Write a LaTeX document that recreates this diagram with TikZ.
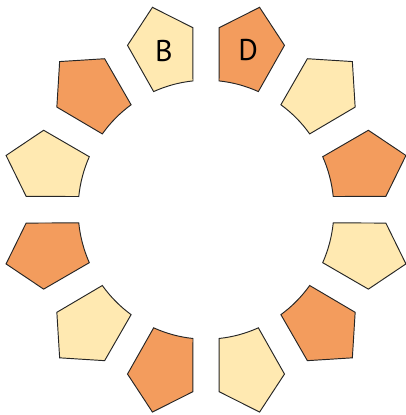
\documentclass[tikz,border=0pt]{standalone}
\usepackage{fontspec}
\setmainfont{PT Sans}
\definecolor{petY}{HTML}{FFE9B1}
\definecolor{petO}{HTML}{F39C5D}
\begin{document}
\begin{tikzpicture}[x=1pt,y=1pt,
  petal/.style={draw=black!85,line width=0.95pt,line join=miter},
  lbl/.style={font=\fontsize{30}{30}\selectfont,inner sep=0pt}]
\useasboundingbox (0,0) rectangle (406,415);
\begin{scope}[shift={(206,205.3)},xscale=0.988]
\foreach \k in {0,...,11}{
  \pgfmathsetmacro{\ang}{15+30*\k-90}
  \pgfmathtruncatemacro{\pty}{mod(\k,2)}
  \ifnum\pty=0 \def\col{petO}\else\def\col{petY}\fi
  \begin{scope}[rotate=\ang]
    \path[petal,fill=\col] (0,209.5) -- (34.2,179.3) -- (20.6,127.8)
      arc[start angle=80.84,end angle=99.16,radius=129.45]
      -- (-34.2,179.3) -- cycle;
  \end{scope}
}
\node[lbl] (lb) at (105:164.8) {B};
\node[lbl] (ld) at (75:164.8) {D};
\end{scope}
\end{tikzpicture}
\end{document}
